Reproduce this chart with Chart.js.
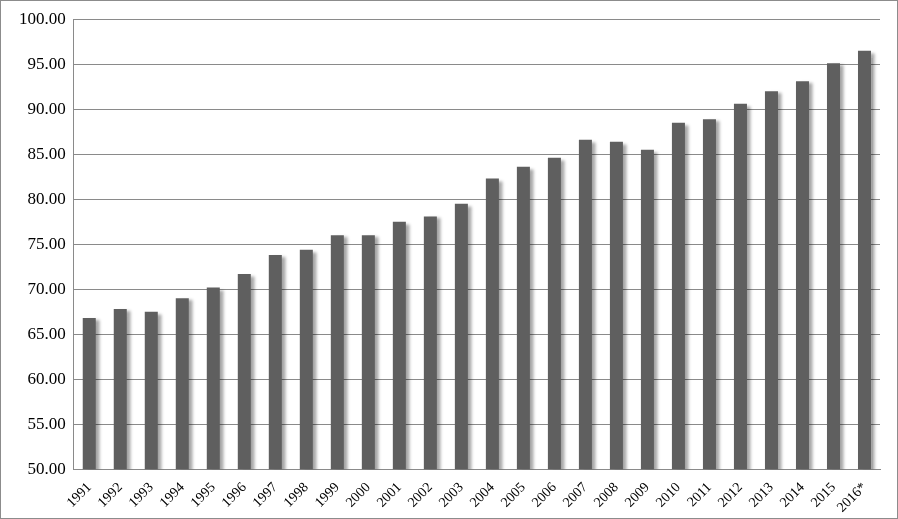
<!DOCTYPE html>
<html><head><meta charset="utf-8">
<script src="https://cdn.jsdelivr.net/npm/chart.js@4"></script>
<style>
html,body{margin:0;padding:0;background:#fff;}
#wrap{position:absolute;left:0;top:0;width:896px;height:517px;border:1px solid #8c8c8c;}
</style></head><body>
<div id="wrap"><canvas id="c" width="896" height="517"></canvas></div>
<script>
const categories=['1991','1992','1993','1994','1995','1996','1997','1998','1999','2000','2001','2002','2003','2004','2005','2006','2007','2008','2009','2010','2011','2012','2013','2014','2015','2016*'];
const values=[66.8,67.8,67.5,69.0,70.2,71.7,73.8,74.4,76.0,76.0,77.5,78.1,79.5,82.3,83.6,84.6,86.6,86.4,85.5,88.5,88.9,90.6,92.0,93.1,95.1,96.5];
const shadow={id:'shadow',beforeDatasetDraw(c){const x=c.ctx;x.save();x.shadowColor='rgba(0,0,0,0.35)';x.shadowOffsetX=4;x.shadowOffsetY=2;x.shadowBlur=3;},afterDatasetDraw(c){c.ctx.restore();}};
new Chart(document.getElementById('c'),{
type:'bar',
data:{labels:categories,datasets:[{data:values,backgroundColor:'#5f5f5f',barPercentage:0.42,categoryPercentage:1}]},
plugins:[shadow],
options:{responsive:false,animation:false,
layout:{padding:{left:10,right:17,top:14,bottom:0}},
plugins:{legend:{display:false},tooltip:{enabled:false}},
scales:{
y:{min:50,max:100,ticks:{stepSize:5,color:'#000',font:{family:'Liberation Serif',size:17},callback:v=>v.toFixed(2),padding:8},
grid:{color:'#8a8a8a',drawTicks:false},border:{display:true,color:'#8a8a8a'}},
x:{ticks:{color:'#000',font:{family:'Liberation Serif',size:14},maxRotation:45,minRotation:45,autoSkip:false,padding:2},
grid:{display:false},border:{color:'#8a8a8a'}}
}}});
</script></body></html>
